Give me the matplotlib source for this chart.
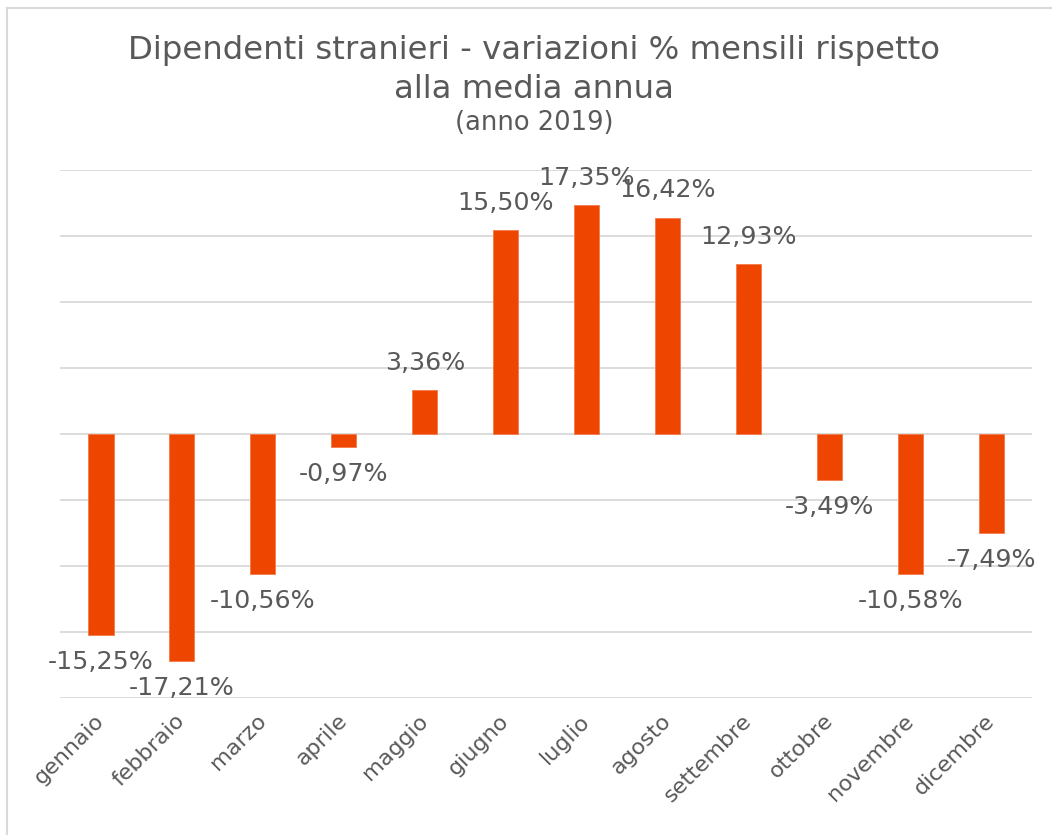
import matplotlib
matplotlib.use('Agg')
import matplotlib.pyplot as plt
from matplotlib.lines import Line2D
from matplotlib.transforms import ScaledTranslation

plt.rcParams['font.family'] = ['DejaVu Sans']

# dati
mesi = ['gennaio', 'febbraio', 'marzo', 'aprile', 'maggio', 'giugno',
        'luglio', 'agosto', 'settembre', 'ottobre', 'novembre', 'dicembre']
variazioni = [-15.25, -17.21, -10.56, -0.97, 3.36, 15.50,
              17.35, 16.42, 12.93, -3.49, -10.58, -7.49]
titolo_1 = 'Dipendenti stranieri - variazioni % mensili rispetto'
titolo_2 = 'alla media annua'
sottotitolo = '(anno 2019)'

grigio = '#595959'
arancio = '#EE4500'

fig = plt.figure(figsize=(10.52, 8.35), dpi=100)
ax = fig.add_axes([0.0575, 0.164, 0.9235, 0.632])

x = range(len(mesi))
bars = ax.bar(x, variazioni, width=0.31, color=arancio, edgecolor='#F47A4A',
              linewidth=0.6, zorder=3)

# etichette dei valori
for bar, v in zip(bars, variazioni):
    testo = f'{v:.2f}%'.replace('.', ',')
    off = 19.5 if v >= 0 else -19.5
    ax.annotate(testo, (bar.get_x() + bar.get_width() / 2, v),
                xytext=(0, off), textcoords='offset points',
                ha='center', va='center', fontsize=18.2, color=grigio, zorder=4)

ax.set_ylim(-20, 20)
ax.set_xlim(-0.5, len(mesi) - 0.5)
ax.set_yticks(range(-20, 21, 5))
ax.yaxis.grid(True, color='#D9D9D9', linewidth=1.3, zorder=0)
ax.set_yticklabels([])
ax.tick_params(axis='y', length=0)
ax.tick_params(axis='x', length=0, pad=9)
ax.set_xticks(list(x))
ax.set_xticklabels(mesi, rotation=45, ha='right', va='top',
                   rotation_mode='anchor', fontsize=16, color=grigio)
sposta = ScaledTranslation(-5 / 72, 0, fig.dpi_scale_trans)
for lab in ax.get_xticklabels():
    lab.set_transform(lab.get_transform() + sposta)
for s in ax.spines.values():
    s.set_visible(False)

fig.text(0.508, 1 - 50 / 835, titolo_1, ha='center', va='center',
         fontsize=23.3, color=grigio)
fig.text(0.508, 1 - 89 / 835, titolo_2, ha='center', va='center',
         fontsize=23.3, color=grigio)
fig.text(0.508, 1 - 123 / 835, sottotitolo, ha='center', va='center',
         fontsize=18.5, color=grigio)

# cornice del grafico (solo lati sinistro e superiore visibili)
fig.lines.append(Line2D([6.5 / 1052, 6.5 / 1052], [0, 1 - 7.5 / 835],
                        transform=fig.transFigure, color='#D9D9D9', linewidth=1.5))
fig.lines.append(Line2D([6.5 / 1052, 1], [1 - 7.5 / 835, 1 - 7.5 / 835],
                        transform=fig.transFigure, color='#D9D9D9', linewidth=1.5))

fig.savefig('out.png', dpi=100)
